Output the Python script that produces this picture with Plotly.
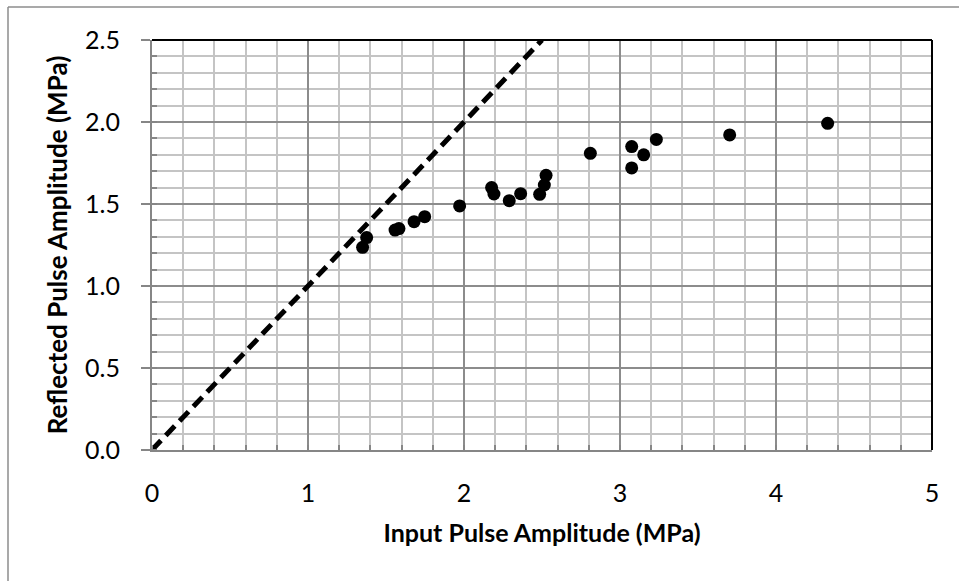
import plotly.graph_objects as go

# Data
input_amp = [1.35, 1.376, 1.558, 1.583, 1.68, 1.748, 1.972, 2.177, 2.192, 2.29, 2.363,
             2.485, 2.515, 2.526, 2.81, 3.075, 3.075, 3.152, 3.233, 3.703, 4.331]
reflected_amp = [1.236, 1.295, 1.341, 1.35, 1.392, 1.423, 1.488, 1.60, 1.561, 1.52, 1.563,
                 1.559, 1.616, 1.675, 1.809, 1.85, 1.72, 1.80, 1.894, 1.921, 1.992]
ref_line_x = [0, 2.5]
ref_line_y = [0, 2.5]

x_ticks = [0, 1, 2, 3, 4, 5]
y_ticks = [0.0, 0.5, 1.0, 1.5, 2.0, 2.5]
y_tick_text = ["0.0", "0.5", "1.0", "1.5", "2.0", "2.5"]

W, H = 959, 581
ML, MR, MT, MB = 152, 27, 40, 131
PW, PH = W - ML - MR, H - MT - MB

fig = go.Figure()
fig.add_trace(go.Scatter(x=ref_line_x, y=ref_line_y, mode="lines",
                         line=dict(color="black", width=5, dash="13px,7px"),
                         showlegend=False, cliponaxis=True))
fig.add_trace(go.Scatter(x=input_amp, y=reflected_amp, mode="markers",
                         marker=dict(color="black", size=13),
                         showlegend=False))

font_family = "Lato, Calibri, Carlito, sans-serif"

fig.update_layout(
    width=W, height=H,
    margin=dict(l=ML, r=MR, t=MT, b=MB),
    paper_bgcolor="white", plot_bgcolor="white",
    font=dict(family=font_family, color="black"),
    xaxis=dict(
        range=[0, 5], tickvals=x_ticks, ticktext=[str(v) for v in x_ticks],
        tickfont=dict(size=25), ticks="", showline=True, linecolor="#868686", linewidth=2,
        showgrid=True, gridcolor="#8c8c8c", gridwidth=2, zeroline=False,
        minor=dict(dtick=0.2, showgrid=True, gridcolor="#c4c4c4", gridwidth=2,
                   ticks="inside", ticklen=5, tickcolor="#868686", tickwidth=2),
        title=dict(text="<b>Input Pulse Amplitude (MPa)</b>", font=dict(size=25), standoff=18),
        ticklabelstandoff=20,
    ),
    yaxis=dict(
        range=[0, 2.5], tickvals=y_ticks, ticktext=y_tick_text,
        tickfont=dict(size=25), ticks="outside", ticklen=9, tickcolor="#868686", tickwidth=2,
        showline=True, linecolor="#868686", linewidth=2,
        showgrid=True, gridcolor="#8c8c8c", gridwidth=2, zeroline=False,
        minor=dict(dtick=0.1, showgrid=True, gridcolor="#c4c4c4", gridwidth=2,
                   ticks="inside", ticklen=5, tickcolor="#868686", tickwidth=2),
        title=dict(text="<b>Reflected Pulse Amplitude (MPa)</b>", font=dict(size=26), standoff=10),
        ticklabelstandoff=16,
    ),
)

# Black top/right frame of the plot area
fig.add_shape(type="line", xref="paper", yref="paper", x0=0, x1=1, y0=1, y1=1,
              line=dict(color="black", width=2))
fig.add_shape(type="line", xref="paper", yref="paper", x0=1, x1=1, y0=0, y1=1,
              line=dict(color="black", width=2))

# Outer chart border (left and top, cropped on right/bottom)
def px_x(p):
    return (p - ML) / PW

def px_y(p):
    return 1 - (p - MT) / PH

fig.add_shape(type="line", xref="paper", yref="paper",
              x0=px_x(8), x1=px_x(8), y0=px_y(7), y1=px_y(H + 5),
              line=dict(color="#8c8c8c", width=1.5))
fig.add_shape(type="line", xref="paper", yref="paper",
              x0=px_x(8), x1=px_x(W + 5), y0=px_y(7), y1=px_y(7),
              line=dict(color="#8c8c8c", width=1.5))

fig.write_html("out.html")
